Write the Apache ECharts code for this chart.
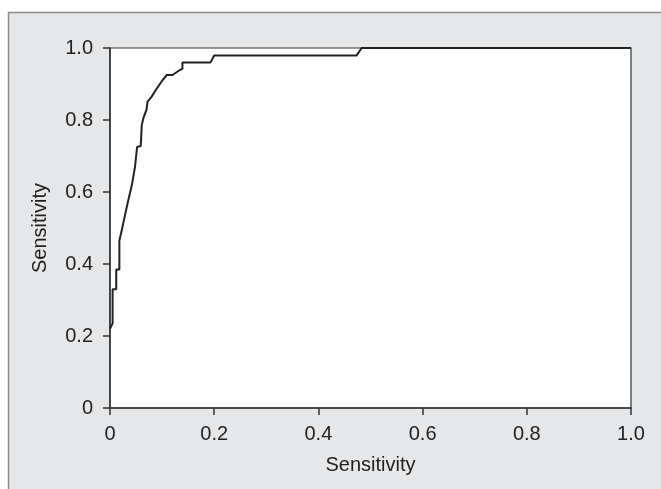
<!DOCTYPE html>
<html><head><meta charset="utf-8">
<script src="https://cdn.jsdelivr.net/npm/echarts@6/dist/echarts.min.js"></script>
<style>html,body{margin:0;padding:0;background:#fff}#c{width:661px;height:489px}</style>
</head><body><div id="c"></div>
<script>
var fpr = [0,0.005,0.005,0.012,0.012,0.018,0.018,0.022,0.026,0.034,0.042,0.048,0.052,0.059,0.061,0.064,0.070,0.072,0.080,0.090,0.099,0.109,0.120,0.134,0.139,0.139,0.193,0.200,0.473,0.483,1.0];
var tpr = [0.22,0.235,0.33,0.33,0.385,0.385,0.465,0.49,0.517,0.57,0.62,0.67,0.725,0.728,0.786,0.805,0.828,0.851,0.865,0.888,0.907,0.925,0.925,0.939,0.942,0.96,0.96,0.979,0.979,1.0,1.0];
var xAxisTitle = 'Sensitivity';
var yAxisTitle = 'Sensitivity';
var points = fpr.map(function(v,i){return [v,tpr[i]];});
var fmt = function(v){return v===0?'0':v.toFixed(1);};
var font = 'Liberation Sans, Arial, sans-serif';
var chart = echarts.init(document.getElementById('c'));
chart.setOption({
  backgroundColor:'#ffffff',
  animation:false,
  graphic:[{type:'rect',z:-10,shape:{x:8.5,y:12.5,width:700,height:500},style:{fill:'#e6e7e9',stroke:'#8c8c8c',lineWidth:1.5}}],
  grid:{left:110,top:48,width:521,height:360,show:true,backgroundColor:'#ffffff',borderColor:'#333',borderWidth:1.2},
  xAxis:{type:'value',min:0,max:1,interval:0.2,name:xAxisTitle,nameLocation:'middle',nameGap:47,
    nameTextStyle:{fontSize:20,color:'#222',fontFamily:font},
    axisLine:{show:true,onZero:false,lineStyle:{color:'#333',width:1.5}},
    axisTick:{show:true,length:7,lineStyle:{color:'#333',width:1.5}},
    axisLabel:{formatter:fmt,fontSize:20,color:'#222',margin:16,fontFamily:font},
    splitLine:{show:false}},
  yAxis:{type:'value',min:0,max:1,interval:0.2,name:yAxisTitle,nameLocation:'middle',nameGap:60,
    nameTextStyle:{fontSize:20,color:'#222',fontFamily:font},
    axisLine:{show:true,onZero:false,lineStyle:{color:'#333',width:1.5}},
    axisTick:{show:true,length:7,lineStyle:{color:'#333',width:1.5}},
    axisLabel:{formatter:fmt,fontSize:20,color:'#222',margin:17,fontFamily:font},
    splitLine:{show:false}},
  series:[{type:'line',data:points,symbol:'none',lineStyle:{color:'#222',width:2},clip:false}]
});
</script></body></html>
